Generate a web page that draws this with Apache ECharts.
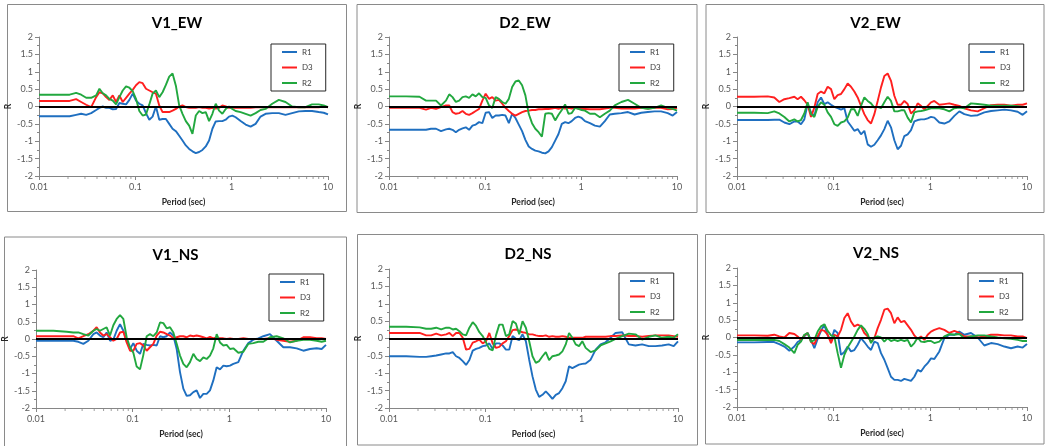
<!DOCTYPE html>
<html>
<head>
<meta charset="utf-8">
<script src="https://cdn.jsdelivr.net/npm/echarts@6/dist/echarts.min.js"></script>
<style>
  html, body { margin: 0; padding: 0; background: #fff; }
  #main { width: 1045px; height: 446px; }
</style>
</head>
<body>
<div id="main"></div>
<script>
// periods (sec) shared by every curve
const periods = [0.01, 0.0151, 0.0208, 0.0243, 0.0274, 0.0309, 0.0348, 0.0392, 0.0424, 0.0459,
  0.0497, 0.0538, 0.0583, 0.0631, 0.0683, 0.074, 0.0801, 0.0867, 0.0939, 0.1016,
  0.11, 0.1191, 0.129, 0.1396, 0.1511, 0.1636, 0.1772, 0.1918, 0.2076, 0.2248,
  0.2434, 0.2635, 0.2853, 0.3088, 0.3343, 0.3619, 0.3918, 0.4243, 0.4593, 0.4973,
  0.5383, 0.5829, 0.631, 0.6831, 0.7396, 0.8006, 0.8669, 0.9385, 1.016, 1.1,
  1.239, 1.396, 1.573, 1.772, 1.995, 2.248, 2.635, 3.088, 3.619, 4.243,
  4.973, 5.829, 6.831, 8.006, 9.02, 10];

const seriesNames = ['R1', 'D3', 'R2'];
const panelTitles = ['V1_EW', 'D2_EW', 'V2_EW', 'V1_NS', 'D2_NS', 'V2_NS'];
const minorTickPeriods = [0.02, 0.03, 0.04, 0.05, 0.06, 0.07, 0.08, 0.09,
  0.2, 0.3, 0.4, 0.5, 0.6, 0.7, 0.8, 0.9, 2, 3, 4, 5, 6, 7, 8, 9];

// V1_EW
const v1ewR1 = [-0.28,-0.28,-0.28,-0.24,-0.21,-0.24,-0.19,-0.10,-0.04,0.0,
  -0.04,-0.04,-0.08,-0.07,0.10,0.08,0.06,0.19,0.37,0.17,
  0.08,0.03,-0.19,-0.38,-0.29,0.0,-0.38,-0.36,-0.36,-0.5,
  -0.64,-0.71,-0.84,-0.98,-1.12,-1.22,-1.29,-1.34,-1.31,-1.25,
  -1.15,-0.98,-0.64,-0.43,-0.42,-0.42,-0.38,-0.29,-0.26,-0.31,
  -0.42,-0.52,-0.58,-0.5,-0.29,-0.21,-0.19,-0.19,-0.24,-0.19,
  -0.14,-0.13,-0.13,-0.16,-0.18,-0.23];
const v1ewD3 = [0.16,0.16,0.16,0.21,0.13,0.05,-0.02,0.27,0.41,0.38,
  0.27,0.19,0.32,0.13,0.32,0.13,0.25,0.37,0.48,0.61,
  0.70,0.67,0.51,0.46,0.41,0.37,0.03,-0.16,-0.16,-0.16,
  -0.12,-0.07,0.0,0.03,-0.02,-0.04,-0.04,-0.04,-0.02,-0.04,
  -0.04,-0.06,-0.04,-0.06,-0.04,0.03,0.0,-0.04,-0.04,-0.04,
  -0.04,-0.04,-0.04,-0.02,-0.02,-0.02,-0.02,-0.02,-0.02,-0.02,
  -0.02,-0.02,-0.02,-0.02,0.0,-0.02];
const v1ewR2 = [0.34,0.34,0.34,0.39,0.34,0.25,0.25,0.32,0.51,0.38,
  0.32,0.22,0.17,0.06,0.27,0.46,0.58,0.54,0.44,0.22,
  -0.13,-0.26,-0.23,0.06,0.37,0.46,0.27,0.41,0.62,0.86,
  0.95,0.6,0.03,-0.21,-0.42,-0.55,-0.79,-0.26,-0.13,-0.19,
  -0.16,-0.42,-0.21,0.08,-0.12,-0.21,-0.07,0.0,-0.07,-0.13,
  -0.16,-0.21,-0.26,-0.19,-0.10,-0.07,0.08,0.19,0.13,0.0,
  -0.02,-0.02,0.06,0.06,0.03,-0.02];

// D2_EW
const d2ewR1 = [-0.67,-0.67,-0.67,-0.67,-0.64,-0.64,-0.71,-0.66,-0.64,-0.67,
  -0.74,-0.67,-0.63,-0.6,-0.67,-0.55,-0.52,-0.45,-0.48,-0.18,
  -0.16,-0.33,-0.26,-0.26,-0.24,-0.26,-0.48,-0.21,-0.33,-0.52,
  -0.71,-0.96,-1.15,-1.22,-1.27,-1.29,-1.33,-1.35,-1.29,-1.17,
  -0.98,-0.79,-0.5,-0.45,-0.48,-0.42,-0.33,-0.29,-0.33,-0.42,
  -0.48,-0.55,-0.58,-0.42,-0.23,-0.21,-0.19,-0.16,-0.23,-0.18,
  -0.16,-0.14,-0.14,-0.19,-0.26,-0.16];
const d2ewD3 = [-0.04,-0.04,-0.04,-0.09,-0.04,-0.07,-0.02,0.03,0.03,-0.16,
  -0.21,-0.19,-0.13,-0.21,-0.24,-0.19,-0.13,-0.07,0.17,0.37,
  0.22,0.27,0.17,0.19,0.08,-0.04,-0.13,-0.21,-0.26,-0.21,
  -0.16,-0.13,-0.12,-0.10,-0.10,-0.08,-0.08,-0.07,-0.07,-0.06,
  -0.04,-0.07,-0.04,-0.06,-0.04,-0.06,-0.04,-0.06,-0.07,-0.07,
  -0.08,-0.08,-0.08,-0.06,-0.04,-0.04,-0.06,-0.06,-0.06,-0.04,
  -0.06,-0.04,-0.04,-0.08,-0.07,-0.04];
const d2ewR2 = [0.29,0.29,0.28,0.17,0.17,0.17,0.03,0.17,0.35,0.27,
  0.13,0.17,0.27,0.29,0.25,0.35,0.29,0.38,0.27,0.25,
  0.03,-0.04,0.27,0.22,0.13,0.08,0.22,0.56,0.72,0.75,
  0.61,0.32,-0.21,-0.48,-0.64,-0.74,-0.87,-0.21,-0.19,-0.21,
  -0.40,-0.24,-0.10,0.06,-0.21,-0.19,-0.04,-0.07,-0.10,-0.12,
  -0.21,-0.21,-0.31,-0.21,-0.12,0.03,0.13,0.19,0.08,-0.04,
  -0.07,-0.04,0.03,-0.04,-0.07,-0.12];

// V2_EW
const v2ewR1 = [-0.39,-0.39,-0.39,-0.38,-0.38,-0.46,-0.51,-0.43,-0.43,-0.51,
  -0.37,0.07,-0.17,-0.27,0.12,0.26,0.07,0.12,0.05,-0.01,
  -0.05,-0.09,-0.05,-0.43,-0.56,-0.70,-0.65,-0.80,-0.70,-1.09,
  -1.16,-1.10,-0.97,-0.83,-0.65,-0.41,-0.6,-0.97,-1.23,-1.13,
  -0.85,-0.80,-0.68,-0.43,-0.39,-0.37,-0.37,-0.34,-0.30,-0.32,
  -0.46,-0.49,-0.43,-0.27,-0.14,-0.22,-0.27,-0.25,-0.17,-0.13,
  -0.11,-0.09,-0.11,-0.15,-0.24,-0.14];
const v2ewD3 = [0.28,0.28,0.29,0.26,0.13,0.21,0.24,0.28,0.21,0.28,
  0.18,0.05,-0.30,-0.03,0.36,0.43,0.38,0.57,0.50,0.21,
  0.33,0.36,0.50,0.66,0.57,0.43,0.26,0.02,-0.22,-0.39,
  -0.49,-0.22,0.16,0.55,0.88,0.95,0.74,0.31,0.05,0.05,
  0.16,0.07,-0.20,-0.11,0.09,0.02,-0.08,0.02,0.12,0.16,
  0.05,0.07,0.09,0.05,0.02,-0.05,-0.11,-0.14,-0.05,0.04,
  0.05,0.05,0.02,0.05,0.05,0.09];
const v2ewR2 = [-0.18,-0.18,-0.19,-0.14,-0.20,-0.30,-0.43,-0.37,-0.43,-0.39,
  -0.20,0.12,-0.22,-0.30,-0.01,0.12,0.05,-0.17,-0.30,-0.51,
  -0.56,-0.46,-0.43,-0.32,-0.08,-0.08,-0.27,0.02,0.26,0.16,
  0.09,-0.03,-0.01,-0.05,0.12,0.28,0.16,-0.14,-0.14,-0.11,
  -0.11,-0.32,-0.46,-0.17,-0.14,-0.13,-0.11,-0.08,-0.05,-0.05,
  -0.05,-0.08,-0.14,-0.05,-0.03,-0.05,0.09,0.07,0.05,0.02,
  0.02,0.02,0.02,0.01,-0.01,-0.01];

// V1_NS
const v1nsR1 = [-0.05,-0.05,-0.05,-0.05,-0.08,-0.14,-0.05,0.14,0.19,0.10,
  0.05,0.19,-0.05,-0.02,0.24,0.43,0.24,-0.05,-0.29,-0.12,
  -0.34,-0.43,-0.14,-0.17,-0.19,-0.17,-0.19,0.08,0.05,0.08,
  0.19,0.10,-0.29,-0.96,-1.44,-1.65,-1.63,-1.54,-1.49,-1.71,
  -1.59,-1.59,-1.49,-1.20,-0.82,-0.88,-0.77,-0.79,-0.77,-0.72,
  -0.67,-0.34,-0.12,-0.02,0.02,0.08,0.14,-0.05,-0.24,-0.24,
  -0.27,-0.34,-0.29,-0.27,-0.29,-0.17];
const v1nsD3 = [0.08,0.08,0.08,0.08,0.02,0.08,0.14,0.24,0.34,0.19,
  0.10,0.14,0.05,-0.05,0.0,0.19,0.21,-0.10,-0.34,-0.34,
  -0.14,-0.12,-0.19,-0.34,-0.24,-0.14,0.10,0.21,0.19,0.14,
  0.10,0.02,0.05,0.08,0.08,0.05,0.10,0.08,0.10,0.08,
  0.05,0.02,0.06,0.02,0.05,0.02,0.02,0.0,0.02,0.0,
  0.0,0.02,0.0,0.0,0.0,0.0,0.02,-0.02,-0.05,-0.08,
  -0.05,0.05,0.05,0.02,0.02,0.0];
const v1nsR2 = [0.24,0.24,0.21,0.19,0.19,0.14,0.10,0.24,0.29,0.24,
  0.29,0.34,0.10,0.40,0.58,0.69,0.58,0.05,-0.24,-0.40,
  -0.80,-0.88,-0.46,0.08,0.14,0.08,0.19,0.48,0.46,0.31,
  0.34,0.19,-0.14,-0.48,-0.72,-0.82,-0.67,-0.43,-0.58,-0.64,
  -0.53,-0.58,-0.48,-0.27,0.14,-0.10,-0.19,-0.17,-0.29,-0.27,
  -0.40,-0.37,-0.14,-0.12,-0.08,-0.08,0.05,0.08,0.02,-0.10,
  -0.05,-0.02,-0.02,-0.05,-0.08,-0.05];

// D2_NS
const d2nsR1 = [-0.51,-0.51,-0.53,-0.53,-0.51,-0.49,-0.46,-0.43,-0.43,-0.39,
  -0.51,-0.56,-0.65,-0.76,-0.62,-0.35,-0.30,-0.27,-0.22,-0.20,
  -0.14,-0.30,-0.14,-0.14,-0.20,-0.32,-0.32,0.07,-0.01,-0.05,
  0.12,-0.08,-0.61,-1.09,-1.47,-1.68,-1.62,-1.52,-1.62,-1.74,
  -1.62,-1.57,-1.43,-1.23,-0.80,-0.85,-0.80,-0.75,-0.73,-0.72,
  -0.61,-0.32,-0.17,-0.11,0.02,0.16,0.18,-0.17,-0.20,-0.17,
  -0.22,-0.22,-0.20,-0.17,-0.22,-0.08];
const d2nsD3 = [0.16,0.16,0.16,0.09,0.09,0.14,0.09,0.12,0.16,0.07,
  0.16,0.16,0.02,-0.32,-0.30,-0.12,-0.08,-0.03,-0.14,-0.08,
  0.16,-0.14,-0.27,-0.24,-0.14,-0.08,0.07,0.24,0.26,0.21,
  0.18,0.16,0.12,0.12,0.09,0.07,0.07,0.09,0.05,0.07,
  0.05,0.05,0.07,0.05,0.02,0.02,0.02,0.02,0.02,0.05,
  0.05,0.05,0.05,0.05,0.07,0.07,0.09,0.07,0.07,0.05,
  0.07,0.09,0.09,0.09,0.07,0.05];
const d2nsR2 = [0.34,0.34,0.32,0.28,0.28,0.31,0.26,0.31,0.31,0.26,
  0.28,0.21,0.12,0.09,0.31,0.47,0.36,0.18,0.07,-0.11,
  -0.30,-0.34,0.09,0.40,0.40,0.07,0.12,0.50,0.43,0.12,
  0.50,0.31,-0.08,-0.51,-0.70,-0.65,-0.51,-0.39,-0.62,-0.51,
  -0.49,-0.46,-0.37,-0.17,0.16,0.02,-0.17,-0.22,-0.08,-0.27,
  -0.39,-0.34,-0.20,-0.14,-0.08,-0.01,0.07,0.14,0.12,-0.03,
  0.05,0.09,0.02,0.05,0.02,0.12];

// V2_NS
const v2nsR1 = [-0.14,-0.14,-0.13,-0.13,-0.19,-0.26,-0.38,-0.26,-0.13,-0.07,
  0.03,0.13,-0.07,-0.31,-0.04,0.19,0.37,0.06,-0.10,0.22,
  0.13,-0.50,-0.42,-0.26,-0.40,-0.36,-0.21,-0.02,-0.13,-0.26,
  -0.36,-0.12,-0.16,-0.45,-0.64,-0.88,-1.13,-1.22,-1.22,-1.25,
  -1.19,-1.22,-1.25,-1.13,-0.93,-0.98,-0.84,-0.74,-0.60,-0.62,
  -0.40,-0.02,0.08,0.08,0.17,0.08,0.13,0.0,-0.23,-0.16,
  -0.19,-0.26,-0.31,-0.26,-0.29,-0.19];
const v2nsD3 = [0.06,0.06,0.05,0.08,0.03,0.0,0.13,0.10,0.03,-0.07,
  0.06,0.13,-0.13,-0.19,0.03,0.22,0.19,0.08,-0.16,0.08,
  0.03,0.22,0.56,0.70,0.46,0.32,0.37,0.32,0.13,0.03,
  -0.12,-0.02,0.27,0.51,0.80,0.83,0.70,0.41,0.58,0.44,
  0.48,0.35,0.22,0.06,-0.04,0.03,-0.07,0.08,0.17,0.22,
  0.27,0.22,0.13,0.19,0.13,0.03,0.03,0.0,0.03,0.08,
  0.08,0.06,0.06,0.03,0.03,-0.02];
const v2nsR2 = [-0.07,-0.07,-0.07,-0.07,-0.10,-0.19,-0.29,-0.45,-0.21,-0.12,
  0.08,0.13,-0.13,-0.07,0.17,0.32,0.38,0.19,0.06,0.03,
  -0.45,-0.87,-0.50,-0.29,-0.13,0.03,0.22,0.35,0.25,0.10,
  -0.16,0.0,0.03,0.0,-0.12,-0.02,-0.10,-0.07,-0.10,-0.07,
  -0.10,-0.07,-0.26,-0.16,0.0,-0.12,-0.13,-0.10,-0.10,-0.16,
  -0.12,0.03,0.10,0.08,0.10,-0.02,0.03,0.06,0.06,0.03,
  0.0,-0.02,-0.04,-0.07,-0.10,-0.10];

const panelData = [
  [v1ewR1, v1ewD3, v1ewR2],
  [d2ewR1, d2ewD3, d2ewR2],
  [v2ewR1, v2ewD3, v2ewR2],
  [v1nsR1, v1nsD3, v1nsR2],
  [d2nsR1, d2nsD3, d2nsR2],
  [v2nsR1, v2nsD3, v2nsR2]
];

const colors = ['#1f6fc0', '#ff1f1f', '#22a83f'];
const FONT = 'Lato, "Open Sans", sans-serif';

// layout of each panel: plot area, chart border, title, legend
const layout = [
  { grid: [39, 37, 289, 139], box: [7.5, 4.5, 339, 207], title: [177, 16], legend: [271, 44] },
  { grid: [389, 37, 288, 139], box: [357, 4.5, 340, 208], title: [525, 16], legend: [619, 44] },
  { grid: [737, 37, 290, 139], box: [706, 4.5, 338, 208], title: [875.5, 16], legend: [969, 44] },
  { grid: [36, 270, 290, 138], box: [4.5, 237, 342, 215], title: [175.5, 248], legend: [269, 274] },
  { grid: [389, 269, 289, 139], box: [357.5, 234.5, 340, 210.5], title: [528, 247], legend: [619, 273] },
  { grid: [737, 268, 290, 139], box: [705.5, 234.5, 338.5, 209.5], title: [876, 246], legend: [968, 273] }
];

const axisGray = '#868686';
const grids = [], xAxes = [], yAxes = [], titles = [], legends = [], series = [], graphics = [];

layout.forEach((p, i) => {
  grids.push({ left: p.grid[0], top: p.grid[1], width: p.grid[2], height: p.grid[3], containLabel: false });
  graphics.push({
    type: 'rect', silent: true, z: -10,
    shape: { x: p.box[0], y: p.box[1], width: p.box[2], height: p.box[3] },
    style: { fill: 'none', stroke: '#8a8a8a', lineWidth: 1 }
  });
  titles.push({
    text: panelTitles[i], left: p.title[0], top: p.title[1], textAlign: 'center', padding: 0,
    textStyle: { fontFamily: FONT, fontSize: 15, fontWeight: 'bold', color: '#000' }
  });
  legends.push({
    data: seriesNames, orient: 'vertical', left: p.legend[0], top: p.legend[1],
    padding: [4, 13, 4, 11], itemGap: 7.5, itemWidth: 15, itemHeight: 2, icon: 'rect',
    borderColor: '#262626', borderWidth: 1, borderRadius: 0, selectedMode: false,
    textStyle: { fontFamily: FONT, fontSize: 8, color: '#404040' }
  });
  xAxes.push({
    type: 'log', logBase: 10, min: 0.01, max: 10, gridIndex: i,
    name: 'Period (sec)', nameLocation: 'middle', nameGap: 22,
    nameTextStyle: { fontFamily: FONT, fontSize: 8.5, fontWeight: 'bold', color: '#262626' },
    axisLine: { onZero: false, lineStyle: { color: axisGray, width: 1 } },
    axisTick: { show: true, inside: false, length: 4, lineStyle: { color: axisGray } },
    axisLabel: { margin: 7, fontFamily: FONT, fontSize: 9, color: '#595959' },
    splitLine: { show: false }
  });
  yAxes.push({
    type: 'value', min: -2, max: 2, interval: 0.5, gridIndex: i,
    name: 'R', nameLocation: 'middle', nameGap: 22,
    nameTextStyle: { fontFamily: FONT, fontSize: 8.5, fontWeight: 'bold', color: '#262626' },
    axisLine: { show: true, lineStyle: { color: axisGray, width: 1 } },
    axisTick: { show: true, inside: false, length: 4, lineStyle: { color: axisGray } },
    minorTick: { show: true, splitNumber: 2, length: 2, lineStyle: { color: axisGray } },
    axisLabel: { margin: 6, fontFamily: FONT, fontSize: 9, color: '#595959' },
    splitLine: { show: false }
  });

  panelData[i].forEach((vals, k) => {
    const s = {
      type: 'line', name: seriesNames[k], xAxisIndex: i, yAxisIndex: i,
      data: periods.map((t, j) => [t, vals[j]]),
      showSymbol: false, symbol: 'none', smooth: false,
      lineStyle: { color: colors[k], width: 1.9 }, itemStyle: { color: colors[k] },
      emphasis: { disabled: true }, z: 2 + k
    };
    if (k === 2) {
      s.markLine = {
        silent: true, symbol: 'none', label: { show: false },
        lineStyle: { color: '#000', width: 2, type: 'solid' },
        data: [{ yAxis: 0 }]
      };
    }
    series.push(s);
  });

  // minor ticks of the log axis at 2..9 of each decade
  series.push({
    type: 'scatter', name: 'minor', xAxisIndex: i, yAxisIndex: i, silent: true,
    symbol: 'rect', symbolSize: [1, 3], symbolOffset: [0, 1.5], clip: false,
    itemStyle: { color: axisGray }, z: 1,
    data: minorTickPeriods.map(t => [t, -2])
  });
});

const chart = echarts.init(document.getElementById('main'), null, { renderer: 'canvas' });
chart.setOption({
  backgroundColor: '#fff',
  animation: false,
  title: titles,
  legend: legends,
  grid: grids,
  xAxis: xAxes,
  yAxis: yAxes,
  series: series,
  graphic: graphics
});
</script>
</body>
</html>
